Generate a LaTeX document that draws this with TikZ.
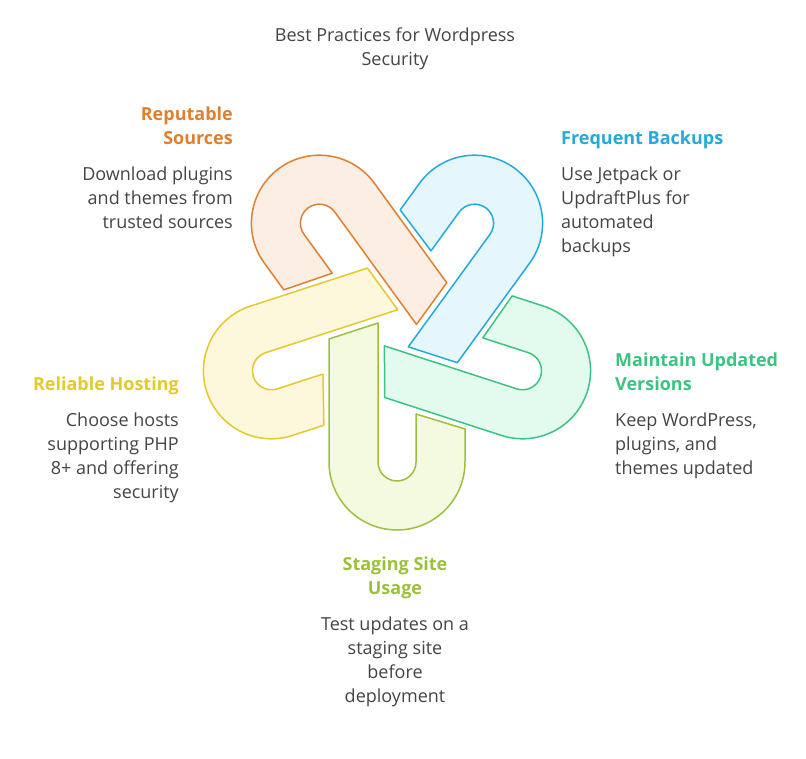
\documentclass[tikz,border=0pt]{standalone}
\usepackage{fontspec}
\setmainfont{Open Sans}
\definecolor{orS}{HTML}{E07F2E}\definecolor{orF}{HTML}{FDEEE4}
\definecolor{blS}{HTML}{25A9DA}\definecolor{blF}{HTML}{E5F7FD}
\definecolor{tlS}{HTML}{3CC381}\definecolor{tlF}{HTML}{E3FAEE}
\definecolor{grS}{HTML}{9CBF3E}\definecolor{grF}{HTML}{F3FADF}
\definecolor{ylS}{HTML}{E2C92C}\definecolor{ylF}{HTML}{FDF8DC}
\definecolor{txt}{HTML}{444444}
\tikzset{
  body/.style={font=\fontsize{18}{24}\selectfont, text=txt, inner sep=0pt},
  head/.style={font=\fontsize{18}{24}\selectfont\bfseries, inner sep=0pt},
}
\newcommand{\hookpiece}[3]{%
  \begin{scope}[shift={(397,428)}, rotate=#1, shift={(0,-132)}]
    \filldraw[draw=#2, fill=#3, line width=1.5pt, line join=round]
      (-68,123) -- (-68,0) arc (180:360:68) -- (68,33) -- (19,48) -- (19,0)
      arc (0:-180:19) -- (-19,139) -- cycle;
  \end{scope}}
\begin{document}
\begin{tikzpicture}[x=1pt,y=1pt]
\useasboundingbox (0,0) rectangle (806,758);
\hookpiece{0}{grS}{grF}
\hookpiece{72}{tlS}{tlF}
\hookpiece{144}{blS}{blF}
\hookpiece{216}{orS}{orF}
\hookpiece{288}{ylS}{ylF}
\node[body, align=center, anchor=north] (title) at (395,730) {Best Practices for Wordpress\\Security};
\node[head, text=orS, align=right, anchor=north east] (h1) at (233,651) {Reputable\\Sources};
\node[body, align=right, anchor=north east] (b1) at (233,591) {Download plugins\\and themes from\\trusted sources};
\node[head, text=blS, align=left, anchor=north west] (h2) at (561,627) {Frequent Backups};
\node[body, align=left, anchor=north west] (b2) at (561,591) {Use Jetpack or\\UpdraftPlus for\\automated\\backups};
\node[head, text=tlS, align=left, anchor=north west] (h3) at (615,405) {Maintain Updated\\Versions};
\node[body, align=left, anchor=north west] (b3) at (615,345) {Keep WordPress,\\plugins, and\\themes updated};
\node[head, text=ylS, align=right, anchor=north east] (h4) at (179,381) {Reliable Hosting};
\node[body, align=right, anchor=north east] (b4) at (179,345) {Choose hosts\\supporting PHP\\8+ and offering\\security};
\node[head, text=grS, align=center, anchor=north] (h5) at (395,201) {Staging Site\\Usage};
\node[body, align=center, anchor=north] (b5) at (395,141) {Test updates on a\\staging site\\before\\deployment};
\end{tikzpicture}
\end{document}
